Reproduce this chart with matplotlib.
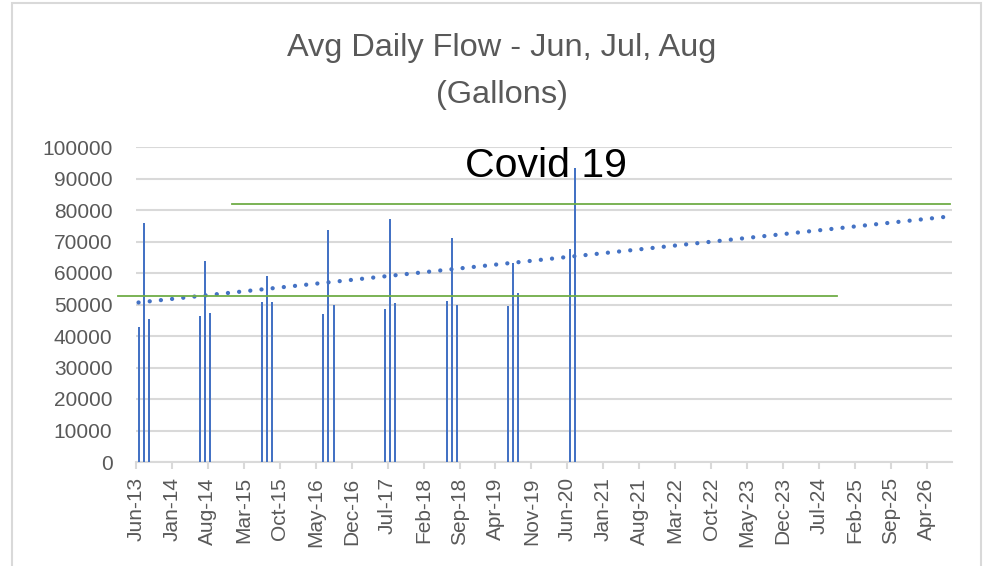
import numpy as np
import pandas as pd
import matplotlib
matplotlib.use('Agg')
from matplotlib import pyplot as plt
import matplotlib.dates as mdates
from matplotlib.patches import Rectangle

# monthly average daily flow (gallons), summer months only
months = ['2013-06', '2013-07', '2013-08',
          '2014-06', '2014-07', '2014-08',
          '2015-06', '2015-07', '2015-08',
          '2016-06', '2016-07', '2016-08',
          '2017-06', '2017-07', '2017-08',
          '2018-06', '2018-07', '2018-08',
          '2019-06', '2019-07', '2019-08',
          '2020-06', '2020-07']
flow = [42800, 75900, 45500,
        46200, 63800, 47200,
        50800, 59000, 50800,
        47000, 73500, 49900,
        48700, 77200, 50400,
        51100, 71200, 50000,
        49500, 63300, 53800,
        67500, 93200]

# the two hand drawn green reference lines (gallons)
upper_ref = 81800
lower_ref = 52800

plt.rcParams['font.family'] = ['Liberation Sans', 'DejaVu Sans']

BLUE = '#4472C4'
GREEN = '#70AD47'
GRID = '#D9D9D9'
TXT = '#595959'

fig = plt.figure(figsize=(9.89, 5.66), dpi=100)
ax = fig.add_axes([136/989, 104/566, 816/989, 315/566])

# bars sit in the middle of their month on the date axis
dates = pd.to_datetime([m + '-01' for m in months]) + pd.Timedelta(days=15)
ax.bar(dates, flow, width=12, color=BLUE, zorder=3)

# linear trend, forecast 72 months forward
xn = mdates.date2num(dates)
coef = np.polyfit(xn, flow, 1)
t_end = mdates.date2num(dates[-1] + pd.DateOffset(months=72))
tx = np.array([xn[0], t_end])
ax.plot(tx, np.polyval(coef, tx), color=BLUE, lw=3.1,
        linestyle=(0, (0.01, 2.6)), dash_capstyle='round', zorder=4)

# green lines, x in axes fraction
ax.plot([0.1176, 0.9975], [upper_ref, upper_ref], color=GREEN, lw=1.3,
        transform=ax.get_yaxis_transform(), clip_on=False, zorder=5)
ax.plot([-0.022, 0.8587], [lower_ref, lower_ref], color=GREEN, lw=1.3,
        transform=ax.get_yaxis_transform(), clip_on=False, zorder=5)

ax.set_ylim(0, 100000)
ax.set_yticks(np.arange(0, 100001, 10000))
ax.grid(axis='y', color=GRID, lw=1.5, zorder=0)
ax.set_xlim(pd.Timestamp('2013-06-01'), pd.Timestamp('2026-08-29'))
ticks = pd.date_range('2013-06-01', '2026-04-01', freq='7MS')
ax.set_xticks(ticks)
ax.xaxis.set_major_formatter(mdates.DateFormatter('%b-%y'))

for s in ['top', 'right', 'left']:
    ax.spines[s].set_visible(False)
ax.spines['bottom'].set_color(GRID)
ax.spines['bottom'].set_linewidth(1.5)
ax.tick_params(axis='y', length=0, pad=17, labelsize=15, labelcolor=TXT)
ax.tick_params(axis='x', length=5, width=1.5, color=GRID, pad=6,
               labelsize=15, labelcolor=TXT, labelrotation=90)

fig.text(502/989, 1 - 48/566, 'Avg Daily Flow - Jun, Jul, Aug', ha='center', va='center',
         fontsize=23.4, color=TXT)
fig.text(502/989, 1 - 95/566, '(Gallons)', ha='center', va='center',
         fontsize=23.4, color=TXT)
fig.text(546/989, 1 - 177/566, 'Covid 19', ha='center', va='baseline',
         fontsize=29.5, color='black')

# chart frame
fig.patches.append(Rectangle((12/989, -0.1), (981 - 12)/989, 1.1 - 3/566,
                             transform=fig.transFigure, fill=False,
                             edgecolor=GRID, lw=1.5))

fig.savefig('out.png', dpi=100)
